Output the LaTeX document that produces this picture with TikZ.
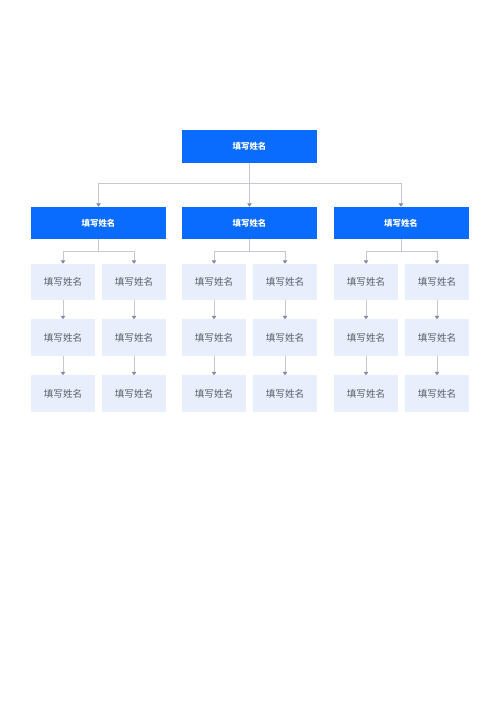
\documentclass[tikz,border=0pt]{standalone}
\usepackage{fontspec}
\newfontfamily\cjk{Noto Sans CJK SC}
\usetikzlibrary{arrows.meta}
\definecolor{mainblue}{HTML}{0A6CFF}
\definecolor{lightbox}{HTML}{E8EEFC}
\definecolor{linegray}{HTML}{C4C8D0}
\definecolor{tipgray}{HTML}{7D8CA3}
\definecolor{txtgray}{HTML}{5C5F66}
\tikzset{
  headbox/.style={fill=mainblue, text=white, minimum width=135pt, minimum height=32.5pt, inner sep=0pt, outer sep=0pt, font=\cjk\bfseries\fontsize{8.4}{10}\selectfont},
  childbox/.style={fill=lightbox, text=txtgray, minimum width=64.5pt, minimum height=36.5pt, inner sep=0pt, outer sep=0pt, font=\cjk\fontsize{9.6}{11}\selectfont},
  conn/.style={draw=linegray, line width=0.9pt, -{Triangle[width=4.5pt,length=3.5pt,color=tipgray]}},
}
\begin{document}
\begin{tikzpicture}[x=1pt,y=-1pt]
\fill[white] (0,0) rectangle (500,707);
\useasboundingbox (0,0) rectangle (500,707);
\node[headbox] (top) at (249.5,146.5) {填写姓名};
\node[headbox] (a) at (98.5,223) {填写姓名};
\node[headbox] (b) at (249.5,223) {填写姓名};
\node[headbox] (c) at (401,223) {填写姓名};
\foreach \n/\x in {a1/63, a2/134, b1/214, b2/285, c1/366, c2/437}{
  \node[childbox] (\n r1) at (\x,282) {填写姓名};
  \node[childbox] (\n r2) at (\x,337.5) {填写姓名};
  \node[childbox] (\n r3) at (\x,393.5) {填写姓名};
  \draw[conn] (\n r1.south) -- (\n r2.north);
  \draw[conn] (\n r2.south) -- (\n r3.north);
}
\draw[conn] (top.south) -- ++(0,20.5) -| (a.north);
\draw[conn] (top.south) -- ++(0,20.5) -| (c.north);
\draw[conn] (top.south) -- (b.north);
\foreach \p in {a,b,c}{
  \draw[conn] (\p.south) -- ++(0,12) -| (\p1r1.north);
  \draw[conn] (\p.south) -- ++(0,12) -| (\p2r1.north);
}
\end{tikzpicture}
\end{document}
